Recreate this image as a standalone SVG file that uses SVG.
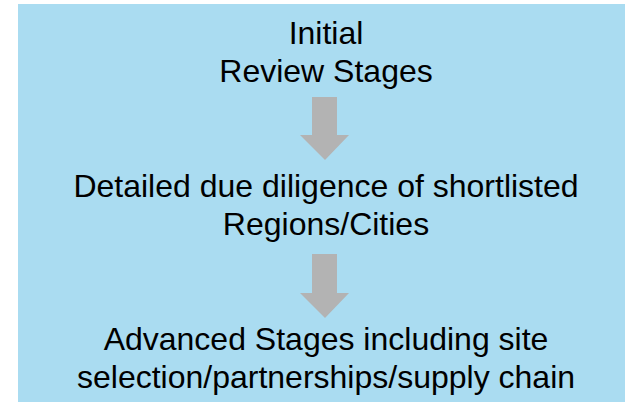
<svg xmlns="http://www.w3.org/2000/svg" width="625" height="404" viewBox="0 0 625 404">
<style>
.t{font-family:"Liberation Sans",Arial,sans-serif;font-size:32px;fill:#000;text-anchor:middle}
.arr{fill:#b3b3b3}
</style>
<rect x="0" y="0" width="625" height="404" fill="#fff"/>
<rect x="18" y="4" width="607" height="398" fill="#aadcf1"/>
<g id="node1"><text class="t" x="326" y="44">Initial</text><text class="t" x="326" y="82">Review Stages</text></g>
<g id="node2"><text class="t" x="326" y="197">Detailed due diligence of shortlisted</text><text class="t" x="326" y="235">Regions/Cities</text></g>
<g id="node3"><text class="t" x="326" y="350">Advanced Stages including site</text><text class="t" x="326" y="388">selection/partnerships/supply chain</text></g>
<g id="connectors">
<polygon class="arr" points="312,97 337,97 337,135 349,135 325,160 300,135 312,135"/>
<polygon class="arr" points="312,254 337,254 337,293 349,293 325,318 300,293 312,293"/>
</g>
</svg>
